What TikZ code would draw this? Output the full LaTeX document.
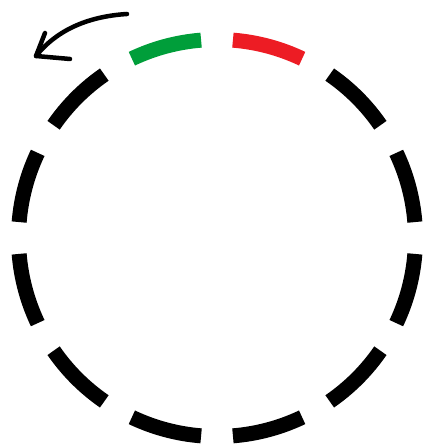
\documentclass[tikz,border=0pt]{standalone}
\usepackage{xcolor}
\usepackage{tikz}

\definecolor{ringgreen}{RGB}{0,158,58}
\definecolor{ringred}{RGB}{237,28,36}

\begin{document}
\begin{tikzpicture}[x=1pt, y=1pt,
  ringseg/.style={line width=15pt, line cap=butt},
  sketch/.style={line width=4.5pt, line cap=round, line join=round}]
\useasboundingbox (0,0) rectangle (423,444);
\coordinate (c) at (217,206);

% Coloured segments at the top
\draw[ringseg, ringgreen] ([shift={(94.6:198.5)}]c) arc[start angle=94.6, end angle=115.4, radius=198.5];
\draw[ringseg, ringred] ([shift={(64.6:198.5)}]c) arc[start angle=64.6, end angle=85.4, radius=198.5];

% Black segments
\foreach \a in {45,15,...,-225}
  \draw[ringseg] ([shift={(\a-10.4:198.5)}]c) arc[start angle=\a-10.4, end angle=\a+10.4, radius=198.5];

% Rotation arrow
\coordinate (tail) at (127,430);
\coordinate (tip) at (36,388);
\draw[sketch] (tail) .. controls (95,428) and (60,418) .. (tip);
\draw[sketch] (45,411) -- (tip) -- (70,385);
\end{tikzpicture}
\end{document}
